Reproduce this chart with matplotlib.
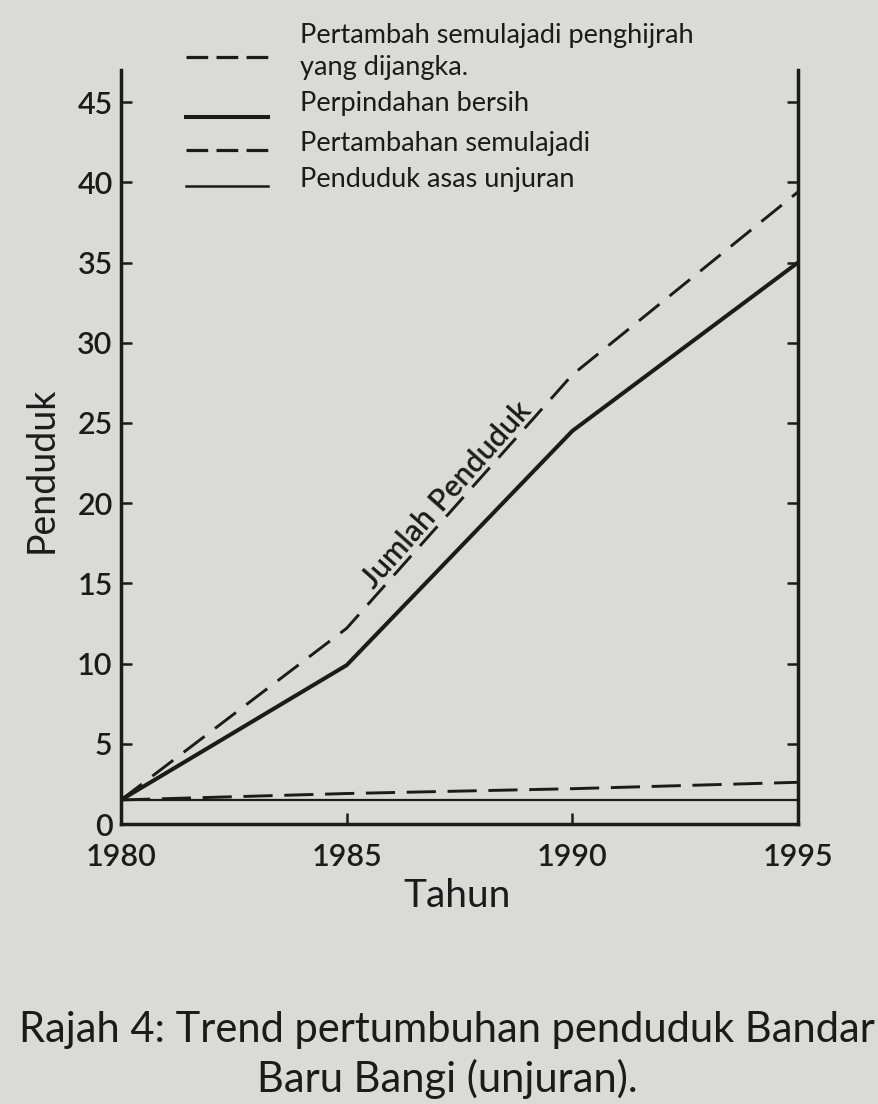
import matplotlib
matplotlib.use("Agg")
import matplotlib.pyplot as plt
from matplotlib.lines import Line2D
import numpy as np

# ---------------- data ----------------
years = [1980, 1985, 1990, 1995]
jumlah_penduduk = [1.5, 12.2, 28.0, 39.4]      # Pertambah semulajadi penghijrah yang dijangka
perpindahan_bersih = [1.5, 9.9, 24.5, 35.0]
pertambahan_semulajadi = [1.5, 1.9, 2.2, 2.6]
penduduk_asas = [1.5, 1.5, 1.5, 1.5]

y_ticks = [0, 5, 10, 15, 20, 25, 30, 35, 40, 45]
x_ticks = [1980, 1985, 1990, 1995]

legend_labels = ["Pertambah semulajadi penghijrah\nyang dijangka.",
                 "Perpindahan bersih",
                 "Pertambahan semulajadi",
                 "Penduduk asas unjuran"]
line_label = "Jumlah Penduduk"
x_label = "Tahun"
y_label = "Penduduk"
caption1 = "Rajah 4: Trend pertumbuhan penduduk Bandar"
caption2 = "Baru Bangi (unjuran)."

plt.rcParams['font.family'] = ['Lato', 'DejaVu Sans']

INK = "#1b1b1b"
BG = "#dadad7"

W, H = 879, 1104
fig = plt.figure(figsize=(W / 100, H / 100), dpi=100, facecolor=BG)

ax_l, ax_r, ax_b, ax_t = 121, 798, 824, 70
ax = fig.add_axes([ax_l / W, 1 - ax_b / H, (ax_r - ax_l) / W, (ax_b - ax_t) / H])
ax.set_facecolor(BG)
ax.set_xlim(1980, 1995)
ax.set_ylim(0, 47)

lw_spine = 2.5
for s in ["left", "right", "bottom"]:
    ax.spines[s].set_linewidth(lw_spine)
    ax.spines[s].set_color(INK)
ax.spines["top"].set_visible(False)

# lines
ax.plot(years, jumlah_penduduk, color=INK, lw=2.1, dashes=(9, 4.5))
ax.plot(years, perpindahan_bersih, color=INK, lw=2.9)
ax.plot(years, pertambahan_semulajadi, color=INK, lw=2.1, dashes=(10, 4))
ax.plot(years, penduduk_asas, color=INK, lw=1.6)

# ticks
ax.set_yticks(y_ticks)
ax.set_yticklabels([str(v) for v in y_ticks])
ax.set_xticks(x_ticks)
ax.set_xticklabels([str(v) for v in x_ticks])
ax.tick_params(axis="y", which="both", direction="in", length=8, width=1.8,
               right=True, left=True, labelright=False, colors=INK,
               labelsize=22, pad=6)
ax.tick_params(axis="x", direction="in", length=8, width=1.8, colors=INK,
               labelsize=22, pad=14)
for lab in ax.get_yticklabels() + ax.get_xticklabels():
    lab.set_fontweight("semibold")

# axis labels
ax.set_ylabel(y_label, fontsize=27, color=INK)
ax.yaxis.label.set_va("center")
ax.yaxis.set_label_coords((42 - ax_l) / (ax_r - ax_l), (ax_b - 470) / (ax_b - ax_t))
ax.set_xlabel(x_label, fontsize=28, color=INK)
ax.xaxis.label.set_va("center")
ax.xaxis.set_label_coords((457 - ax_l) / (ax_r - ax_l), (ax_b - 896) / (ax_b - ax_t))

# "Jumlah Penduduk" label along the top dashed line
fig.canvas.draw()
p0 = ax.transData.transform((years[1], jumlah_penduduk[1]))
p1 = ax.transData.transform((years[2], jumlah_penduduk[2]))
ang = np.degrees(np.arctan2(p1[1] - p0[1], p1[0] - p0[0]))
tx = 1987.45
ty = np.interp(tx, years, jumlah_penduduk)
ax.text(tx, ty, line_label, rotation=ang, rotation_mode="anchor",
        ha="center", va="bottom", fontsize=22, color=INK, fontweight="semibold",
        transform=ax.transData)

# legend drawn as figure artists
leg_x0, leg_x1, txt_x = 186, 268, 300
marker_y = [57, 117, 150, 186]
marker_style = [dict(lw=2.3, dashes=(6.8, 2.6)), dict(lw=2.9), dict(lw=2.3, dashes=(6.8, 2.6)), dict(lw=1.8)]
text_y = [52, 104, 143, 179]
for my, st in zip(marker_y, marker_style):
    fig.add_artist(Line2D([leg_x0 / W, leg_x1 / W], [1 - my / H, 1 - my / H],
                          color=INK, transform=fig.transFigure, **st))
for lab, yy in zip(legend_labels, text_y):
    fig.text(txt_x / W, 1 - yy / H, lab, fontsize=19.5, color=INK,
             ha="left", va="center", linespacing=1.35)

# caption
fig.text(447 / W, 1 - 1030 / H, caption1, fontsize=30, color=INK, ha="center", va="center")
fig.text(447 / W, 1 - 1079 / H, caption2, fontsize=30, color=INK, ha="center", va="center")

fig.savefig("out.png", dpi=100, facecolor=BG)
